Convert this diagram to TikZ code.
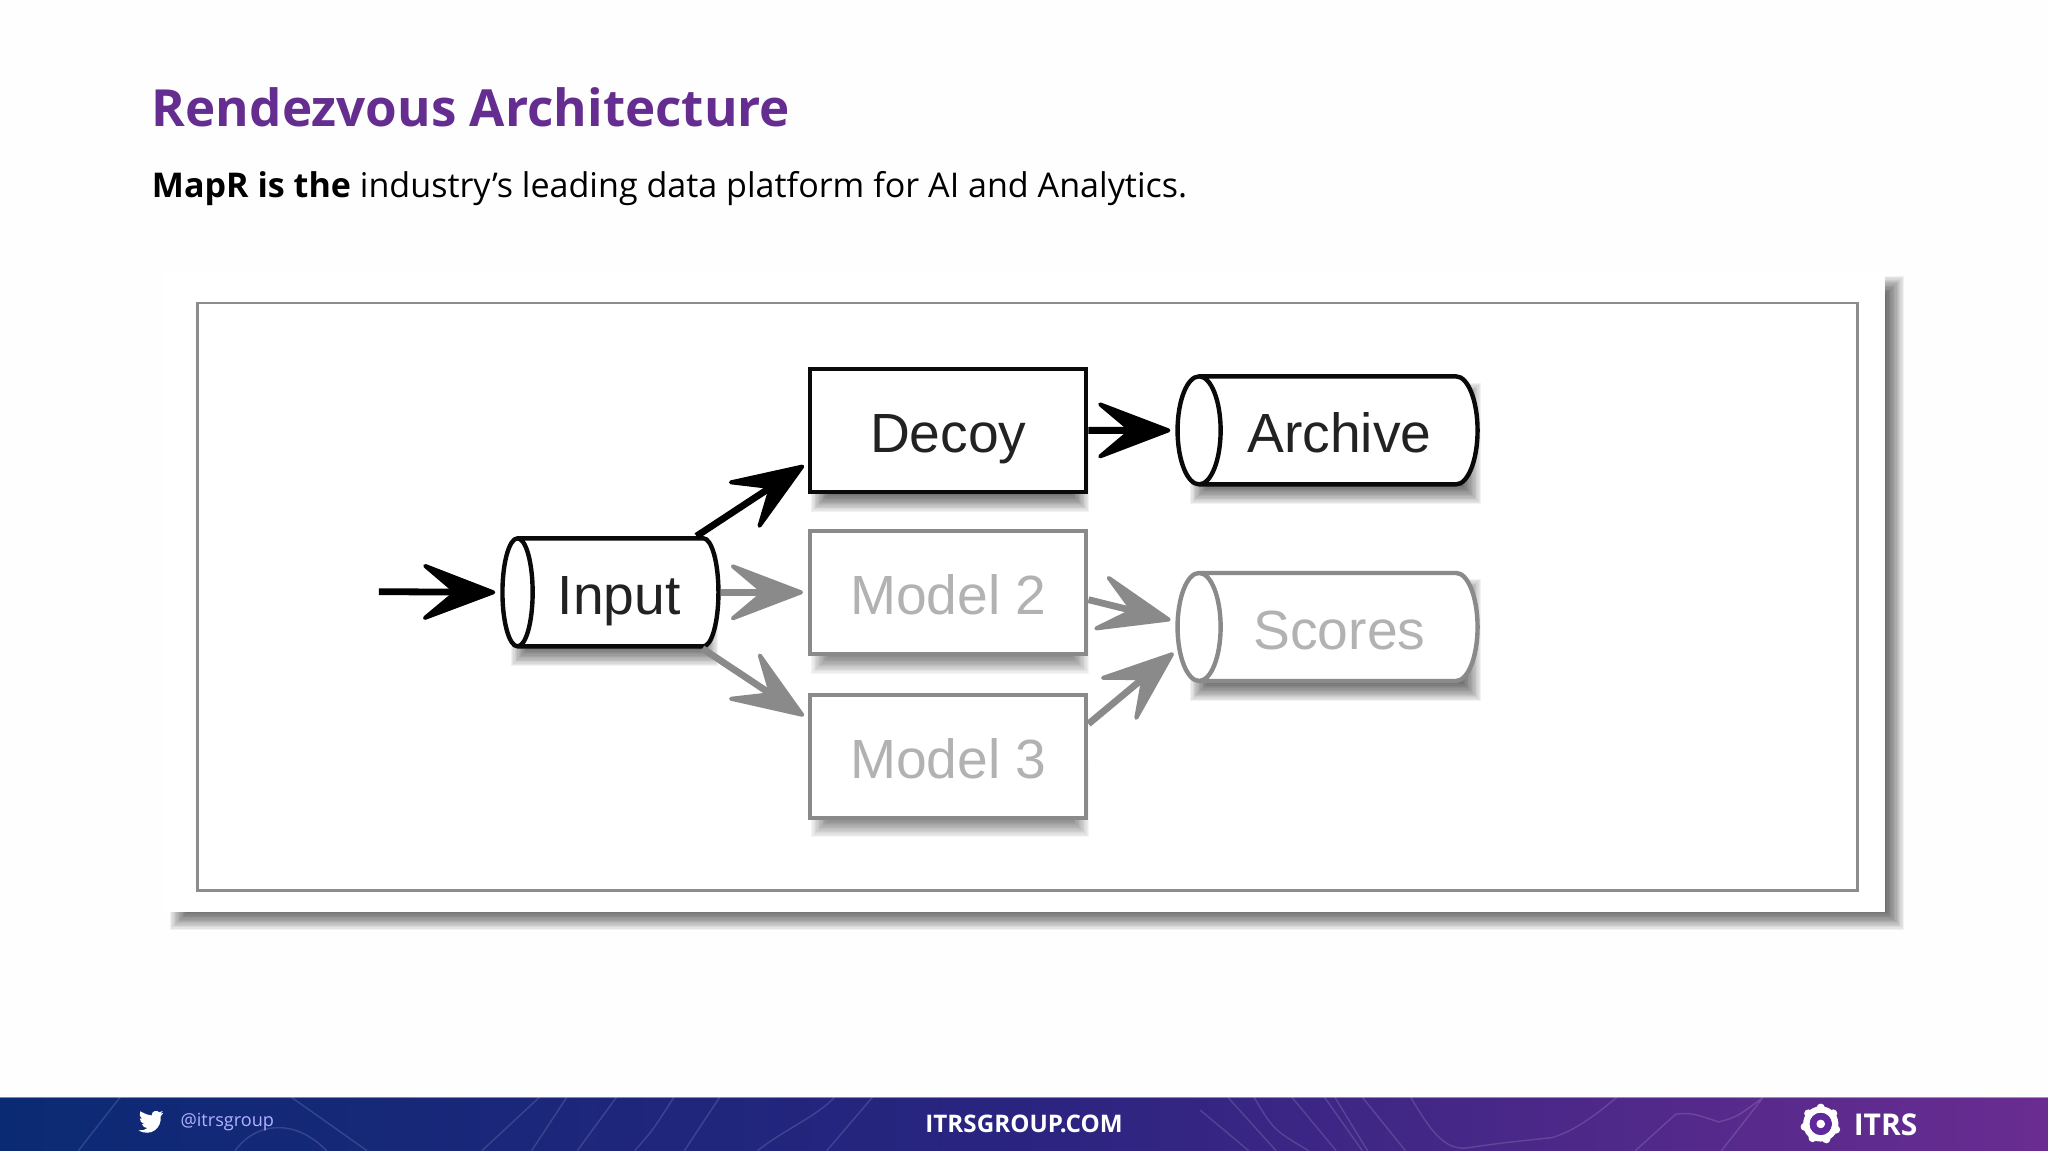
\documentclass[tikz,border=0pt]{standalone}
\usepackage{fontspec}
\setmainfont{Open Sans}
\newfontfamily\diagfont{Liberation Sans}
\usetikzlibrary{shapes.geometric,arrows.meta}
\definecolor{titlepurple}{HTML}{662D91}
\definecolor{bannerblue}{HTML}{0B2A74}
\definecolor{bannermid}{HTML}{2A2480}
\definecolor{bannerpurple}{HTML}{6A2C91}
\definecolor{fadegray}{HTML}{8A8A8A}
\definecolor{fadetext}{HTML}{B2B2B2}
\definecolor{inkblack}{HTML}{0A0A0A}
\newcommand{\softshadow}[5]{%
  \foreach \sp in {-7,-6,...,7}
    \fill[black,opacity=#5] (#1-\sp,#2-\sp) rectangle (#3+\sp,#4+\sp);}
\tikzset{
  x=0.65306pt,y=-0.65306pt,
  nodetext/.style={font=\diagfont\fontsize{27.6}{30}\selectfont,text height=22.2pt,text depth=0pt},
  box/.style={draw,rectangle,fill=white,line width=2.2pt,minimum width=138pt,minimum height=61.5pt,inner sep=0pt,nodetext},
  drum/.style={draw,cylinder,shape border rotate=180,fill=white,line width=2.2pt,inner sep=0pt,nodetext,cylinder uses custom fill,cylinder end fill=white,cylinder body fill=white},
  live/.style={draw=inkblack,text=inkblack!90!white},
  faded/.style={draw=fadegray,text=fadetext},
  conn/.style={line width=3.4pt,-{Stealth[length=42pt,width=32pt,inset=19pt,round,line width=2pt]},shorten >=2.5pt},
  conndark/.style={conn,draw=black},
  connfaded/.style={conn,draw=fadegray},
  contour/.style={draw=white,opacity=0.14,line width=0.7pt},
}
\begin{document}
\begin{tikzpicture}
\useasboundingbox (0,0) rectangle (1568,882);
\fill[white!99.5!gray] (0,0) rectangle (1568,882);
% slide texts
\node[anchor=base west,inner sep=0pt,text=titlepurple,font=\bfseries\fontsize{25.6}{30}\selectfont] (title) at (116,97) {Rendezvous Architecture};
\node[anchor=base west,inner sep=0pt,text=black,font=\fontsize{17.04}{22}\selectfont] (lead) at (116,151) {\textbf{MapR is the} industry’s leading data platform for AI and Analytics.};
% picture frame with drop shadow
\softshadow{137}{218}{1451}{705}{0.05}
\fill[white] (125,208) rectangle (1443,698);
\draw[draw=black!45,line width=1.4pt] (151,232) rectangle (1422,682);
% node shadows
\softshadow{628}{340}{827}{385}{0.05}
\softshadow{628}{465}{827}{509}{0.04}
\softshadow{628}{590}{827}{634}{0.04}
\softshadow{398}{430}{543}{503}{0.05}
\softshadow{918}{300}{1127}{379}{0.05}
\softshadow{918}{450}{1127}{530}{0.05}
% nodes
\node[box,live] (decoy) at (726,329.5) {Decoy};
\node[box,faded] (model2) at (726,453.5) {Model 2};
\node[box,faded] (model3) at (726,579) {Model 3};
\node[drum,live,minimum height=108pt,minimum width=54pt,aspect=0.68] (input) at (474,453.5) {Input};
\node[drum,live,minimum height=150pt,minimum width=54pt,aspect=0.97] (archive) at (1025.5,329.5) {Archive};
\node[drum,faded,minimum height=150pt,minimum width=54pt,aspect=0.97] (scores) at (1025.5,480) {Scores};
% connectors
\coordinate (feed) at (290,453);
\draw[conndark] (feed) -- (input.west);
\draw[conndark] (input.36) -- (decoy.193);
\draw[conndark] (decoy.east) -- (archive.west);
\draw[connfaded] (input.east) -- (model2.west);
\draw[connfaded] (input.-34) -- (model3.165);
\draw[connfaded] (model2.-3.5) -- (scores.178.5);
\draw[connfaded] (model3.13) -- (scores.188);
% banner
\fill[white] (0,881) rectangle (1568,882);
\shade[left color=bannerblue,right color=bannerpurple,middle color=bannermid] (0,840) rectangle (1568,881);
\draw[draw=white,opacity=0.45,line width=0.5pt] (0,840) -- (1568,840);
\draw[contour] (369,881) -- (413,840) (407,881) -- (434,840) (442,881) -- (472,840) (486,881) .. controls (500,865) .. (516,840) (524,881) -- (551,840);
\draw[contour] (580,881) .. controls (600,865) and (625,855) .. (639,840) (633,881) -- (668,840);
\draw[contour] (281,881) -- (223,840) (60,881) -- (92,840) (180,881) .. controls (195,860) and (225,855) .. (250,881);
\draw[contour] (919,850) -- (956,881) (940,840) -- (977,881) (960,840) .. controls (975,865) .. (1002,881) (989,840) -- (1023,881) (1014,840) -- (1043,881) (1022,840) -- (1047,881) (1043,840) -- (1076,881);
\draw[contour] (1080,840) .. controls (1095,865) and (1105,880) .. (1122,879) .. controls (1150,875) .. (1188,871) .. controls (1205,866) and (1220,855) .. (1238,840);
\draw[contour] (1252,881) -- (1283,853) .. controls (1295,852) .. (1316,859) .. controls (1330,855) .. (1350,840) (1318,881) -- (1350,840);
\fill[white] (125,852) .. controls (124.3,852.5) and (123.6,852.7) .. (122.8,852.8) .. controls (123.7,852.2) and (124.2,851.5) .. (124.6,850.6) .. controls (123.8,851.1) and (122.9,851.4) .. (122,851.6) .. controls (120.5,849.8) and (116.5,850.5) .. (116.3,853) .. controls (116.3,853.4) and (116.3,853.7) .. (116.4,854) .. controls (113,853.8) and (110,852.3) .. (107.4,850.8) .. controls (106.3,853) and (107,855.4) .. (108.9,856.8) .. controls (108.2,856.7) and (107.6,856.6) .. (107,856.2) .. controls (107,858.3) and (108.5,860) .. (110.5,860.6) .. controls (109.9,860.8) and (109.3,860.8) .. (108.6,860.6) .. controls (109.2,862.4) and (110.8,863.6) .. (112.8,863.7) .. controls (111,865.1) and (108.6,865.8) .. (106,865.4) .. controls (116,871) and (124,863) .. (123,854.8) .. controls (123.8,854) and (124.5,853) .. (125,852) -- cycle;
\node[anchor=base west,inner sep=0pt,text=white!70!blue,font=\fontsize{9.05}{11}\selectfont] (handle) at (138,862.5) {@itrsgroup};
\node[anchor=base,inner sep=0pt,text=white,font=\bfseries\fontsize{12.1}{14}\selectfont] (site) at (784,867) {ITRSGROUP.COM};
\fill[white,even odd rule] (1394,860.5) circle (13.5) (1394,860.5) circle (8.5);
\fill[white] (1394,860.5) circle (3.5);
\foreach \a in {20,70,...,340} \fill[white] (1394,860.5) ++(\a:12.5) circle (3.1);
\fill[bannerpurple!90!blue,even odd rule] (1394,860.5) circle (8.5) (1394,860.5) circle (3.5);
\node[anchor=base west,inner sep=0pt,text=white,font=\bfseries\fontsize{15}{18}\selectfont] (brand) at (1419,869) {ITRS};
\end{tikzpicture}
\end{document}
